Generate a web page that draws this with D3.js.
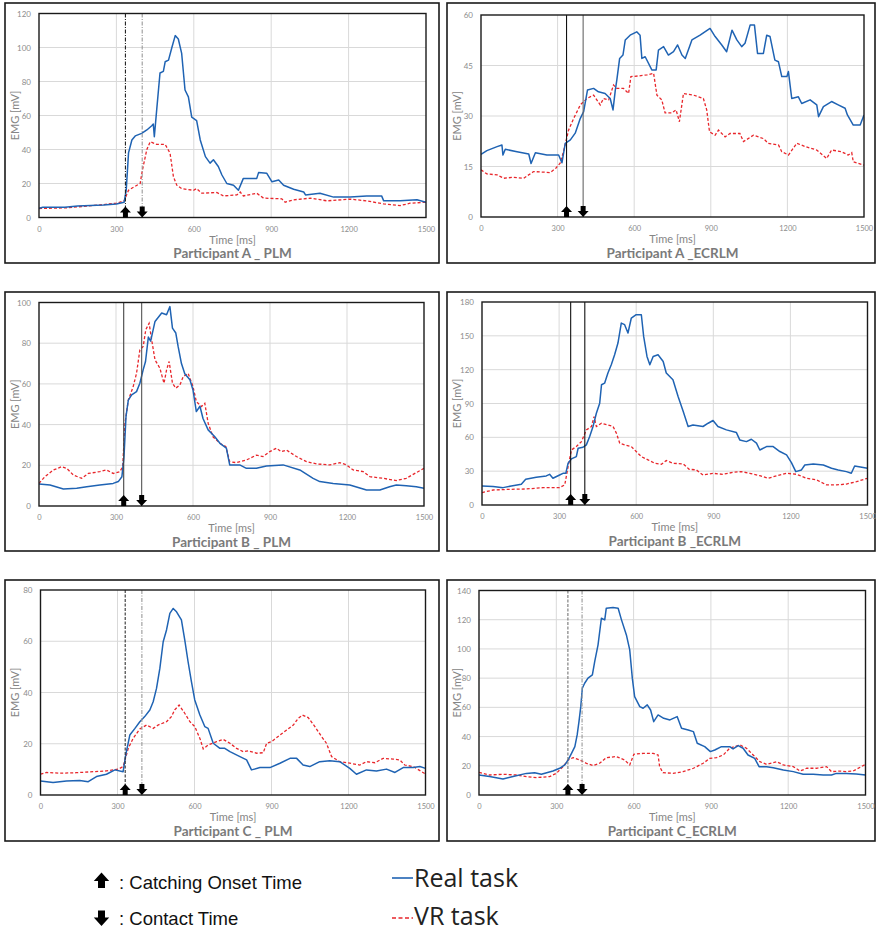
<!DOCTYPE html>
<html><head><meta charset="utf-8">
<script src="https://cdn.jsdelivr.net/npm/d3@7"></script>
<style>body{margin:0;background:#fff}svg{display:block}</style>
</head><body>
<svg id="chart" width="876" height="931"></svg>
<script>
// ---------- DATA ----------
const xTicks = [0, 300, 600, 900, 1200, 1500];
const titles = ["Participant A _ PLM", "Participant A _ECRLM", "Participant B _ PLM", "Participant B _ECRLM", "Participant C _ PLM", "Participant C_ECRLM"];
const yTicksAPLM = [0, 20, 40, 60, 80, 100, 120];
const yTicksAECR = [0, 15, 30, 45, 60];
const yTicksBPLM = [0, 20, 40, 60, 80, 100];
const yTicksBECR = [0, 30, 60, 90, 120, 150, 180];
const yTicksCPLM = [0, 20, 40, 60, 80];
const yTicksCECR = [0, 20, 40, 60, 80, 100, 120, 140];
const markersAPLM = [335, 400];
const markersAECR = [335, 400];
const markersBPLM = [330, 400];
const markersBECR = [345, 400];
const markersCPLM = [330, 395];
const markersCECR = [345, 400];

const A_PLM_real = [[0,5.5],[15,6],[100,6],[150,6.8],[250,7.3],[300,8],[330,9],[338,16],[347,38],[360,45.6],[373,48],[398,49.5],[418,51.5],[437,54],[443,55],[447,47.5],[456,63],[469,85],[482,86],[489,91.6],[502,92.6],[515,100],[528,107],[540,105],[553,96.5],[566,75],[579,71],[592,59],[611,57],[625,45.6],[645,35.8],[663,32],[676,34],[695,30],[709,25],[728,20],[754,19],[773,16],[792,23],[844,23],[851,26.4],[883,26],[903,21],[929,22],[948,19],[987,16.6],[1026,15],[1033,13.3],[1089,14.3],[1142,12],[1206,12],[1270,12.7],[1328,12.7],[1336,9.8],[1400,9.8],[1465,10.4],[1500,9]];
const A_PLM_vr = [[0,5.3],[107,5.7],[237,7.4],[300,8.4],[330,9.8],[347,16],[366,17.8],[392,20],[401,28],[418,40],[431,44.6],[456,43],[489,43],[508,37.8],[521,24],[534,19],[553,17],[599,16],[611,17],[631,14.3],[689,14.7],[715,12.7],[767,13.3],[780,15],[792,12.7],[844,14.3],[870,11.4],[941,11],[954,9],[987,10.4],[1052,11.4],[1116,9.8],[1206,10.8],[1270,9.8],[1336,8],[1400,7],[1438,8.4],[1500,9]];
const A_ECR_real = [[0,18.6],[23,19.7],[63,20.9],[82,21.4],[86,18.4],[95,20.1],[141,19.4],[187,18.7],[196,15.9],[213,19.1],[258,18.4],[304,18.4],[317,16.1],[330,21.9],[350,22.9],[369,24.9],[389,29.3],[402,31.3],[417,37.7],[441,38.2],[460,37.2],[486,36.7],[506,35.2],[517,31.8],[526,37.7],[532,40.7],[543,47.1],[556,48.1],[565,52.6],[584,54],[610,55],[623,54],[630,47.1],[643,47.6],[669,43.7],[686,43.7],[695,49.6],[715,50.6],[734,48.1],[754,49.1],[770,51.1],[787,48.1],[800,47.1],[826,52.6],[858,54],[897,56],[917,53.6],[943,51.1],[962,49.1],[983,55.5],[1002,52.6],[1021,50.6],[1034,51.6],[1054,57],[1071,57],[1083,48.6],[1106,48.6],[1119,54],[1132,53.6],[1151,46.6],[1165,46.1],[1178,41.7],[1198,41.7],[1204,43.2],[1217,35.2],[1243,35.7],[1256,33.7],[1289,34.8],[1315,33.3],[1322,29.8],[1341,32.8],[1373,34.3],[1399,33.3],[1426,32.3],[1435,30.3],[1458,27.3],[1485,27.3],[1500,30.3]];
const A_ECR_vr = [[0,14],[23,12.8],[63,12.5],[89,11.5],[128,11.8],[167,11.5],[206,13.5],[271,13.2],[293,14.5],[310,16],[323,19.4],[343,25.8],[363,29.3],[389,33.3],[415,35.2],[441,36.2],[467,33.3],[480,35.2],[500,34.8],[519,39.2],[532,38.2],[558,38.2],[578,36.7],[587,41.7],[617,41.9],[650,42.2],[676,42.7],[689,36.2],[708,34.8],[721,30.9],[747,30.9],[764,31.8],[777,28.3],[793,36.7],[832,36.2],[871,35.2],[884,31.8],[895,25.3],[917,24.3],[930,25.8],[956,23.8],[975,24.8],[1014,24.8],[1028,22.4],[1067,24.3],[1106,23.3],[1125,21.9],[1165,21.4],[1178,19.4],[1204,18.4],[1237,21.9],[1270,20.9],[1315,19.9],[1354,17.4],[1373,19.9],[1412,19.4],[1438,18.4],[1452,19.1],[1458,16.4],[1500,15.4]];
const B_PLM_real = [[0,10.8],[43,10.3],[95,8.4],[147,8.7],[186,9.5],[237,10.3],[289,11.1],[309,12],[323,14.4],[331,24],[339,44],[348,52],[361,54.6],[380,56.2],[393,60.3],[406,67],[415,71],[426,83],[435,81],[452,90.7],[478,94.8],[497,94],[510,98],[520,87.4],[533,85],[542,78.4],[555,70],[568,65],[588,62],[600,57],[613,46.4],[627,49],[639,43],[659,37.4],[685,34],[705,30.8],[730,28.4],[743,20.2],[782,20.2],[808,18.5],[847,18.5],[886,19.7],[951,20.2],[1016,17.7],[1068,13.6],[1094,12],[1146,11.1],[1211,10.3],[1276,7.9],[1328,7.9],[1366,9.5],[1392,10.3],[1431,10],[1470,9.5],[1500,8.7]];
const B_PLM_vr = [[0,11.1],[23,14.4],[56,17.7],[88,19.3],[108,18.5],[134,15.2],[166,13.6],[192,16],[237,16.9],[263,17.7],[289,16],[315,16.9],[326,19.3],[335,40.7],[348,52],[367,58.7],[380,65.2],[393,76.7],[406,78.4],[416,86.6],[429,89.8],[439,81.6],[452,71.8],[471,67.7],[487,60.3],[497,66.9],[507,71],[520,60.3],[533,57.9],[549,59.5],[562,63.6],[581,65.2],[600,58.7],[613,51.3],[633,48.9],[646,50.5],[659,40.7],[678,34],[705,30.8],[728,29.2],[743,21.8],[769,21.3],[808,22.6],[847,25],[873,24.3],[899,26.7],[925,28.4],[944,26.7],[964,27.5],[1003,24.3],[1042,21.8],[1081,20.7],[1133,20.2],[1172,21.3],[1198,20.2],[1224,17.7],[1263,16.9],[1289,14.4],[1341,13.6],[1392,12.5],[1431,13.6],[1470,16.4],[1500,18.5]];
const B_ECR_real = [[0,16.9],[43,16.3],[82,15.4],[114,16.9],[153,18.4],[170,22.8],[211,24.6],[250,25.8],[263,27.2],[276,23.7],[302,26.6],[315,28.1],[326,28.1],[335,37],[348,40.9],[367,42.9],[374,50.3],[393,51.2],[406,53.3],[419,60.7],[432,69.6],[445,81.4],[458,90.3],[465,106.6],[477,108],[490,117],[503,124.3],[516,133.2],[529,143.6],[542,161.3],[555,159.9],[568,152.5],[581,165.8],[600,168.7],[620,168.7],[629,149.5],[642,131.7],[653,124.3],[666,131.7],[685,133.2],[705,127.3],[717,117],[743,111],[763,96.2],[783,82.9],[802,69.6],[821,71],[860,69.6],[880,72.5],[899,74.9],[918,69.6],[951,66.6],[990,64.2],[1003,57.7],[1029,56.2],[1048,58.3],[1068,54.8],[1081,48.8],[1107,51.8],[1133,51.8],[1159,47.4],[1185,44.4],[1204,37.6],[1221,29.6],[1243,31.1],[1256,35.5],[1289,36.4],[1328,35.5],[1360,32.6],[1386,31.1],[1418,29.6],[1437,28.1],[1450,34.6],[1500,32.6]];
const B_ECR_vr = [[0,11],[43,13.3],[108,13.9],[172,14.2],[237,15.4],[302,15.4],[322,17.8],[335,34],[348,48.8],[367,51.8],[387,56.2],[406,66.6],[426,69.6],[436,78.4],[445,69.6],[465,72.5],[490,71],[510,69.6],[523,63.6],[536,54.8],[555,53.3],[581,51.8],[600,47.4],[620,42.9],[646,40],[672,37],[698,36.1],[717,39.4],[743,37],[783,36.4],[806,31.7],[834,31.1],[860,26.6],[899,28.1],[938,27.2],[977,29],[1009,29.6],[1042,28.1],[1081,26],[1113,23.7],[1146,25.8],[1185,28.1],[1224,27.2],[1263,23.7],[1302,22.2],[1341,17.8],[1380,17.8],[1418,18.6],[1457,20.7],[1500,23.7]];
const C_PLM_real = [[0,5.5],[49,4.9],[101,5.5],[153,5.7],[186,5.2],[218,7.2],[257,8.1],[290,9.8],[322,9.1],[332,15.6],[348,23.4],[368,26],[387,28.6],[406,30.6],[426,33.2],[439,36.4],[452,41.6],[465,49.4],[478,59.8],[491,64.4],[504,70.9],[517,72.8],[530,71.5],[549,68.3],[562,60.5],[575,52],[588,44.2],[601,37.1],[621,31.2],[640,26.7],[653,26],[673,20.2],[699,18.2],[718,18.2],[738,16.9],[777,15],[803,13.7],[822,9.8],[855,10.7],[894,10.7],[933,12.4],[972,14.3],[998,14.3],[1023,11.7],[1049,11.1],[1088,13],[1127,13.4],[1166,13],[1205,10.4],[1231,8.1],[1270,9.8],[1309,9.4],[1348,10.1],[1381,8.8],[1413,10.7],[1452,10.7],[1478,11.1],[1500,10.4]];
const C_PLM_vr = [[0,8.1],[23,8.8],[75,8.5],[140,8.7],[205,9.1],[257,9.4],[303,10.1],[322,11.1],[342,18.2],[361,22.1],[387,25.8],[413,27.3],[439,26],[458,27.3],[491,28.6],[510,30.6],[523,33.2],[540,35.1],[562,31.9],[582,28.6],[601,26.7],[621,22.1],[634,18],[653,19.5],[686,20.8],[712,21.7],[738,20.2],[764,18.2],[790,16.9],[809,17.2],[842,16.3],[868,16.5],[881,20.2],[900,20.8],[933,23.4],[959,25.4],[985,27.3],[1004,29.9],[1021,31.2],[1043,30.2],[1069,26.7],[1095,22.8],[1114,20.2],[1134,15],[1166,13],[1205,12.4],[1244,11.7],[1270,13],[1303,12.6],[1335,14.3],[1374,14],[1400,13.7],[1419,11.7],[1452,11.1],[1500,8.2]];
const C_ECR_real = [[0,13.7],[41,12.6],[93,11],[132,12.6],[184,14.8],[216,15.3],[242,14.2],[287,16.4],[313,18.3],[333,20.6],[346,24],[359,28.5],[372,33.1],[381,41.1],[388,50.2],[395,60.5],[401,73.1],[410,76.5],[423,80],[440,82.2],[449,91.3],[462,102.8],[475,121],[488,119.9],[494,127.9],[520,128.3],[540,127.9],[553,119.9],[572,109.6],[585,99.3],[595,80],[604,67.4],[624,60.5],[637,59.4],[653,61.7],[666,58.2],[678,50.2],[695,54.8],[717,52.5],[741,51.4],[769,53.7],[786,45.7],[812,44.5],[832,43.4],[847,35.4],[876,33.1],[898,29.7],[915,30.8],[941,33.1],[973,33.1],[986,31.5],[1006,33.8],[1025,32],[1044,27.4],[1070,25.1],[1087,19.4],[1116,19.4],[1142,18.7],[1181,17.1],[1220,16],[1258,14.2],[1297,14.2],[1336,13.7],[1368,13.7],[1387,14.8],[1426,14.8],[1464,14.4],[1500,13.7]];
const C_ECR_vr = [[0,15.5],[41,13.7],[93,14.2],[145,13.7],[184,12.6],[223,11.9],[274,12.6],[300,14.8],[326,19.4],[346,24],[365,25.6],[391,24],[417,21.7],[443,20.1],[468,21.7],[494,25.6],[533,26.3],[565,24],[585,20.6],[601,27.9],[637,28.5],[676,28.5],[695,27.4],[701,19.4],[714,15.3],[753,14.8],[792,16],[832,18.3],[870,21.7],[896,25.1],[922,25.6],[948,27.4],[973,32],[1012,34.3],[1038,32],[1064,27.4],[1090,22.8],[1116,21],[1155,22.8],[1181,20.6],[1220,19.4],[1246,16.4],[1272,18.3],[1310,18.3],[1349,19.4],[1368,16],[1400,16.4],[1426,16],[1452,16.4],[1500,21]];

// ---------- LAYOUT ----------
const DD = "4,1.5,1,1.5";
const panels = [
  {box:[5,3,439,263], plot:[39,13.5,426,217.5], yt:yTicksAPLM, real:A_PLM_real, vr:A_PLM_vr, mk:markersAPLM,
   ms:[{c:"#222",d:DD},{c:"#999",d:DD}], title:titles[0]},
  {box:[447,3,875,263], plot:[481,15,864,217], yt:yTicksAECR, real:A_ECR_real, vr:A_ECR_vr, mk:markersAECR,
   ms:[{c:"#111",d:null},{c:"#666",d:null}], title:titles[1]},
  {box:[5,292,439,551], plot:[39,302.5,424,506], yt:yTicksBPLM, real:B_PLM_real, vr:B_PLM_vr, mk:markersBPLM,
   ms:[{c:"#444",d:null},{c:"#555",d:null}], title:titles[2]},
  {box:[447,292,875,551], plot:[482,302,867.5,505], yt:yTicksBECR, real:B_ECR_real, vr:B_ECR_vr, mk:markersBECR,
   ms:[{c:"#111",d:null},{c:"#111",d:null}], title:titles[3]},
  {box:[5,580,439,841], plot:[40.5,590,425.5,795], yt:yTicksCPLM, real:C_PLM_real, vr:C_PLM_vr, mk:markersCPLM,
   ms:[{c:"#333",d:"3,1.5"},{c:"#999",d:DD}], title:titles[4]},
  {box:[447,580,875,841], plot:[479,590.5,865.5,795], yt:yTicksCECR, real:C_ECR_real, vr:C_ECR_vr, mk:markersCECR,
   ms:[{c:"#777",d:"3,1.5"},{c:"#999",d:DD}], title:titles[5]}
];

const svg = d3.select("#chart");
const realColor = "#1f63b3", vrColor = "#e8262b";
const tickColor = "#8c8c8c", labColor = "#858585";
const fmt = d3.format("d");

function upArrow(cx, by){ return `M${cx-2.5},${by} L${cx-2.5},${by-5} L${cx-5.5},${by-5} L${cx},${by-11} L${cx+5.5},${by-5} L${cx+2.5},${by-5} L${cx+2.5},${by} Z`; }
function downArrow(cx, by){ return `M${cx-2.5},${by-11} L${cx+2.5},${by-11} L${cx+2.5},${by-6} L${cx+5.5},${by-6} L${cx},${by} L${cx-5.5},${by-6} L${cx-2.5},${by-6} Z`; }

panels.forEach((p, i) => {
  const [bx0, by0, bx1, by1] = p.box;
  const [l, t, r, b] = p.plot;
  const g = svg.append("g");
  g.append("rect").attr("x", bx0).attr("y", by0).attr("width", bx1 - bx0).attr("height", by1 - by0)
    .attr("fill", "none").attr("stroke", "#1a1a1a").attr("stroke-width", 1.6);

  const x = d3.scaleLinear().domain([0, 1500]).range([l, r]);
  const y = d3.scaleLinear().domain([0, d3.max(p.yt)]).range([b, t]);

  // grid
  g.append("g").selectAll("line").data(xTicks.slice(1, -1)).join("line")
    .attr("x1", d => x(d)).attr("x2", d => x(d)).attr("y1", t).attr("y2", b)
    .attr("stroke", "#d9d9d9").attr("stroke-width", 1);
  g.append("g").selectAll("line").data(p.yt.slice(1, -1)).join("line")
    .attr("x1", l).attr("x2", r).attr("y1", d => y(d)).attr("y2", d => y(d))
    .attr("stroke", "#d9d9d9").attr("stroke-width", 1);

  // axes labels via d3 axes
  const xAxis = d3.axisBottom(x).tickValues(xTicks).tickFormat(fmt).tickSize(0).tickPadding(9);
  const xa = g.append("g").attr("transform", `translate(0,${b})`).call(xAxis);
  xa.select(".domain").remove();
  xa.selectAll("text").attr("fill", tickColor).style("font", "7.5px Lato, 'Open Sans', sans-serif");
  const yAxis = d3.axisLeft(y).tickValues(p.yt).tickFormat(fmt).tickSize(0).tickPadding(8);
  const ya = g.append("g").attr("transform", `translate(${l},0)`).call(yAxis);
  ya.select(".domain").remove();
  ya.selectAll("text").attr("fill", tickColor).style("font", "8px Lato, 'Open Sans', sans-serif");

  // clip
  const cid = "clip" + i;
  svg.append("clipPath").attr("id", cid).append("rect").attr("x", l).attr("y", t).attr("width", r - l).attr("height", b - t);
  const line = d3.line().x(d => x(d[0])).y(d => y(d[1]));
  const lg = g.append("g").attr("clip-path", `url(#${cid})`);
  lg.append("path").attr("d", line(p.vr)).attr("fill", "none").attr("stroke", vrColor)
    .attr("stroke-width", 1.3).attr("stroke-dasharray", "3,2");
  lg.append("path").attr("d", line(p.real)).attr("fill", "none").attr("stroke", realColor)
    .attr("stroke-width", 1.5).attr("stroke-linejoin", "round");

  // markers
  p.mk.forEach((m, k) => {
    const ln = g.append("line").attr("x1", x(m)).attr("x2", x(m)).attr("y1", t).attr("y2", b)
      .attr("stroke", p.ms[k].c).attr("stroke-width", 1.1);
    if (p.ms[k].d) ln.attr("stroke-dasharray", p.ms[k].d);
  });

  // plot frame
  g.append("rect").attr("x", l).attr("y", t).attr("width", r - l).attr("height", b - t)
    .attr("fill", "none").attr("stroke", "#1a1a1a").attr("stroke-width", 1.4);

  // arrows
  g.append("path").attr("d", upArrow(x(p.mk[0]), b)).attr("fill", "#000");
  g.append("path").attr("d", downArrow(x(p.mk[1]), b)).attr("fill", "#000");

  // axis titles
  g.append("text").attr("x", (l + r) / 2).attr("y", b + 26).attr("text-anchor", "middle")
    .attr("fill", labColor).style("font", "11px Lato, 'Open Sans', sans-serif").text("Time [ms]");
  const ex = bx0 + 14, ey = (t + b) / 2;
  g.append("text").attr("transform", `translate(${ex},${ey}) rotate(-90)`).attr("text-anchor", "middle")
    .attr("fill", labColor).style("font", "11px Lato, 'Open Sans', sans-serif").text("EMG [mV]");
  g.append("text").attr("x", (l + r) / 2).attr("y", b + 40.5).attr("text-anchor", "middle")
    .attr("fill", "#7a7a7a").style("font", "bold 13.5px Lato, 'Open Sans', sans-serif").text(p.title);
});

// ---------- LEGEND ----------
const leg = svg.append("g");
leg.append("path").attr("d", upArrow(101.5, 888)).attr("fill", "#000").attr("transform", "translate(101.5,888) scale(1.4) translate(-101.5,-888)");
leg.append("text").attr("x", 119).attr("y", 889).attr("fill", "#111")
  .style("font", "18.5px 'Liberation Sans', Arial, sans-serif").text(": Catching Onset Time");
leg.append("path").attr("d", downArrow(101.5, 926)).attr("fill", "#000").attr("transform", "translate(101.5,926) scale(1.4) translate(-101.5,-926)");
leg.append("text").attr("x", 119).attr("y", 925).attr("fill", "#111")
  .style("font", "18.5px 'Liberation Sans', Arial, sans-serif").text(": Contact Time");
leg.append("line").attr("x1", 392).attr("x2", 413).attr("y1", 878).attr("y2", 878)
  .attr("stroke", realColor).attr("stroke-width", 1.6);
leg.append("text").attr("x", 414).attr("y", 887).attr("fill", "#222")
  .style("font", "25px 'Open Sans', sans-serif").text("Real task");
leg.append("line").attr("x1", 392).attr("x2", 413).attr("y1", 918).attr("y2", 918)
  .attr("stroke", vrColor).attr("stroke-width", 1.6).attr("stroke-dasharray", "4,2.5");
leg.append("text").attr("x", 414).attr("y", 925).attr("fill", "#222")
  .style("font", "25px 'Open Sans', sans-serif").text("VR task");
</script>
</body></html>
